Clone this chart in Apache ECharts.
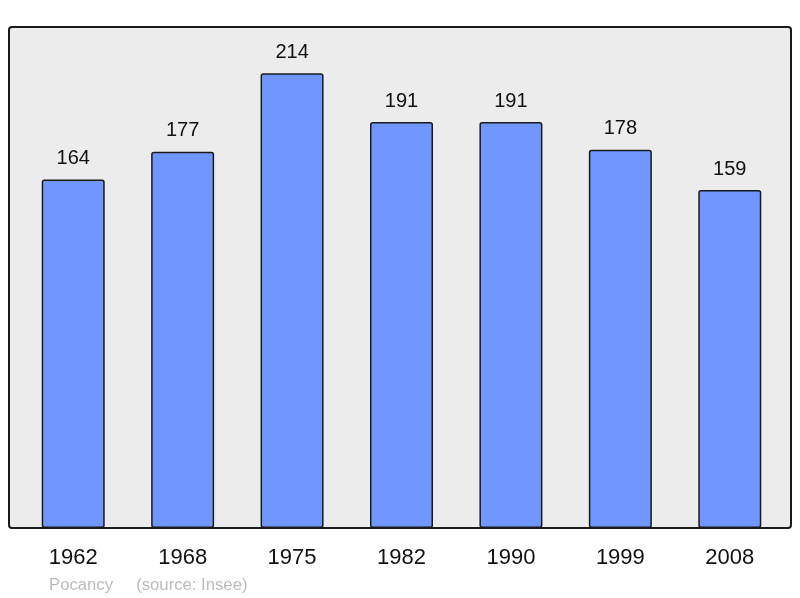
<!DOCTYPE html>
<html>
<head>
<meta charset="utf-8">
<script src="https://cdn.jsdelivr.net/npm/echarts@6/dist/echarts.min.js"></script>
<style>
  html, body { margin: 0; padding: 0; background: #fff; }
  #chart { width: 800px; height: 598px; }
</style>
</head>
<body>
<div id="chart"></div>
<script>
// 年份与人口
const years = ['1962', '1968', '1975', '1982', '1990', '1999', '2008']
const population = [164, 177, 214, 191, 191, 178, 159]

const chart = echarts.init(document.getElementById('chart'))

const option = {
  animation: false,
  textStyle: { fontFamily: 'Liberation Sans, Arial, sans-serif' },
  title: {
    text: 'Pocancy     (source: Insee)',
    left: 44,
    top: 572,
    textStyle: { color: '#bbbbbb', fontSize: 16.7, fontWeight: 'normal', fontFamily: 'Liberation Sans, Arial, sans-serif' }
  },
  // 背景框
  graphic: [
    {
      type: 'rect',
      z: -10,
      shape: { x: 9, y: 27, width: 782, height: 501, r: 3 },
      style: { fill: '#ececec', stroke: '#1a1a1a', lineWidth: 2 }
    }
  ],
  grid: { left: 18.5, right: 15.5, top: 27, bottom: 70 },
  xAxis: {
    type: 'category',
    data: years,
    axisLine: { show: false },
    axisTick: { show: false },
    axisLabel: { color: '#111', fontSize: 22, margin: 19 }
  },
  yAxis: {
    type: 'value',
    min: 0,
    max: 235.7,
    show: false,
    splitLine: { show: false }
  },
  series: [
    {
      type: 'bar',
      data: population,
      barWidth: 63,
      itemStyle: {
        color: '#7097ff',
        borderColor: '#1a1a1a',
        borderWidth: 1.5,
        borderRadius: 2
      },
      label: {
        show: true,
        position: 'top',
        distance: 11,
        color: '#111',
        fontSize: 20
      }
    }
  ]
}

chart.setOption(option)
</script>
</body>
</html>
